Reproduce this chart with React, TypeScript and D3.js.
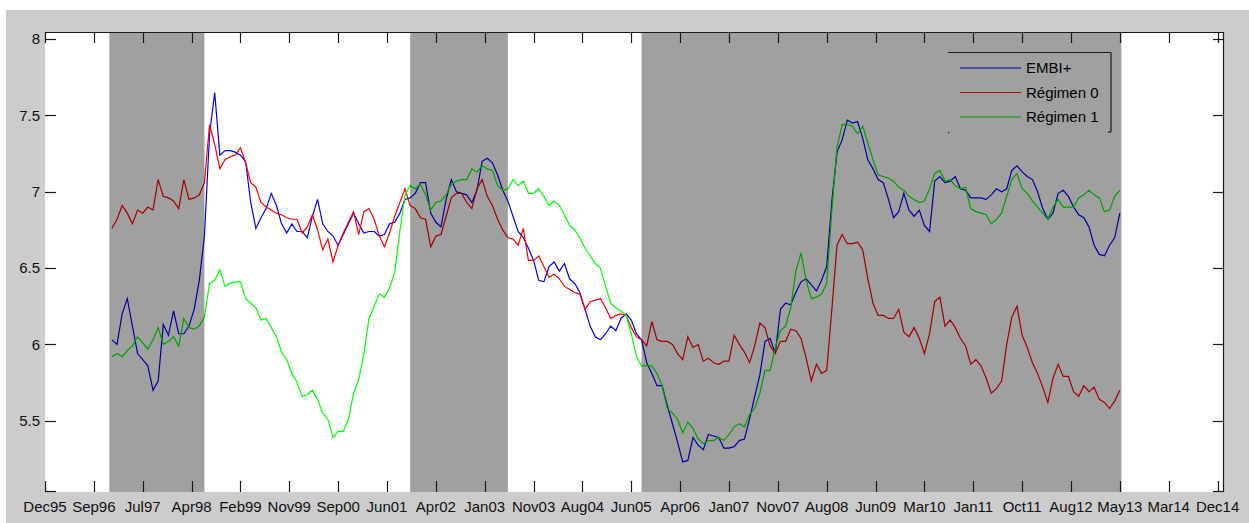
import React from 'react';
import * as d3 from 'd3';

// Monthly observations: index 0 = Jan 1997 ... index 196 = May 2013
const embiPlus = [
  6.03, 6.00, 6.20, 6.30, 6.12, 5.94, 5.90, 5.86, 5.70, 5.76,
  6.13, 6.06, 6.22, 6.07, 6.07, 6.12, 6.23, 6.42, 6.71, 7.38,
  7.65, 7.24, 7.27, 7.27, 7.26, 7.24, 7.20, 6.93, 6.76, 6.83,
  6.89, 6.99, 6.91, 6.79, 6.73, 6.79, 6.74, 6.74, 6.70, 6.84,
  6.95, 6.79, 6.74, 6.71, 6.65, 6.72, 6.79, 6.86, 6.79, 6.73,
  6.74, 6.74, 6.71, 6.72, 6.79, 6.80, 6.86, 6.95, 6.96, 6.99,
  7.06, 7.06, 6.86, 6.80, 6.77, 6.95, 7.08, 7.00, 6.99, 6.98,
  6.93, 7.01, 7.20, 7.22, 7.19, 7.11, 7.01, 6.94, 6.84, 6.74,
  6.70, 6.63, 6.55, 6.42, 6.41, 6.51, 6.54, 6.48, 6.53, 6.43,
  6.40, 6.34, 6.23, 6.12, 6.05, 6.03, 6.07, 6.12, 6.09, 6.17,
  6.20, 6.16, 6.07, 6.03, 5.88, 5.81, 5.73, 5.73, 5.60, 5.48,
  5.36, 5.23, 5.24, 5.39, 5.34, 5.31, 5.41, 5.40, 5.39, 5.32,
  5.32, 5.33, 5.37, 5.38, 5.51, 5.66, 5.80, 6.02, 6.04, 5.94,
  6.23, 6.27, 6.26, 6.34, 6.41, 6.43, 6.39, 6.35, 6.42, 6.51,
  6.94, 7.26, 7.34, 7.47, 7.45, 7.46, 7.35, 7.21, 7.15, 7.08,
  7.06, 6.95, 6.83, 6.87, 6.99, 6.88, 6.84, 6.88, 6.78, 6.74,
  7.07, 7.10, 7.06, 7.07, 7.10, 7.02, 7.01, 6.96, 6.96, 6.96,
  6.95, 6.98, 7.02, 7.00, 7.02, 7.14, 7.17, 7.13, 7.10, 7.08,
  7.00, 6.89, 6.82, 6.86, 6.99, 7.01, 6.97, 6.90, 6.85, 6.83,
  6.77, 6.65, 6.59, 6.58, 6.65, 6.70, 6.86,
];

const regimen0 = [
  6.76, 6.82, 6.91, 6.86, 6.79, 6.88, 6.86, 6.90, 6.88, 7.08,
  6.97, 6.96, 6.94, 6.89, 7.08, 6.95, 6.96, 6.98, 7.06, 7.44,
  7.31, 7.15, 7.21, 7.23, 7.24, 7.29, 7.19, 7.06, 7.03, 6.93,
  6.90, 6.88, 6.86, 6.85, 6.83, 6.82, 6.82, 6.73, 6.77, 6.85,
  6.75, 6.62, 6.69, 6.54, 6.65, 6.73, 6.80, 6.87, 6.72, 6.87,
  6.89, 6.82, 6.71, 6.64, 6.73, 6.84, 6.93, 7.02, 6.91, 6.89,
  6.83, 6.82, 6.64, 6.71, 6.72, 6.84, 6.96, 6.99, 6.99, 6.93,
  6.89, 7.02, 7.08, 6.97, 6.91, 6.82, 6.75, 6.70, 6.69, 6.65,
  6.76, 6.55, 6.55, 6.58, 6.51, 6.44, 6.46, 6.43, 6.38, 6.36,
  6.34, 6.33, 6.23, 6.28, 6.29, 6.30, 6.24, 6.17, 6.19, 6.20,
  6.19, 6.11, 6.05, 6.03, 5.99, 6.15, 6.03, 6.02, 6.02, 6.00,
  5.94, 5.90, 6.05, 5.98, 6.00, 5.89, 5.91, 5.88, 5.87, 5.89,
  5.89, 6.06, 6.00, 5.95, 5.88, 5.99, 6.14, 6.11, 5.99, 5.94,
  6.02, 6.02, 6.10, 6.09, 6.04, 5.91, 5.76, 5.87, 5.81, 5.83,
  6.23, 6.65, 6.72, 6.66, 6.66, 6.67, 6.62, 6.43, 6.27, 6.19,
  6.19, 6.17, 6.17, 6.23, 6.08, 6.05, 6.11, 6.04, 5.94, 6.07,
  6.28, 6.31, 6.12, 6.16, 6.11, 6.04, 5.99, 5.87, 5.90, 5.86,
  5.78, 5.68, 5.71, 5.76, 6.00, 6.18, 6.25, 6.06, 5.98, 5.88,
  5.81, 5.72, 5.62, 5.78, 5.87, 5.79, 5.79, 5.69, 5.66, 5.73,
  5.69, 5.72, 5.64, 5.62, 5.58, 5.63, 5.70,
];

const regimen1 = [
  5.92, 5.94, 5.92, 5.96, 5.99, 6.05, 6.01, 5.97, 6.03, 6.11,
  6.00, 6.02, 6.05, 5.99, 6.17, 6.11, 6.10, 6.12, 6.18, 6.40,
  6.42, 6.49, 6.38, 6.40, 6.41, 6.41, 6.30, 6.27, 6.24, 6.16,
  6.17, 6.11, 6.05, 5.95, 5.90, 5.81, 5.75, 5.66, 5.67, 5.70,
  5.64, 5.55, 5.51, 5.39, 5.43, 5.43, 5.51, 5.68, 5.77, 5.94,
  6.17, 6.25, 6.33, 6.31, 6.37, 6.47, 6.74, 6.98, 7.04, 7.02,
  7.05, 6.98, 6.88, 6.93, 6.94, 6.98, 7.05, 7.07, 7.08, 7.08,
  7.15, 7.13, 7.17, 7.15, 7.14, 7.04, 7.01, 7.02, 7.08, 7.04,
  7.07, 6.99, 6.99, 7.02, 6.97, 6.91, 6.94, 6.91, 6.85, 6.78,
  6.75, 6.70, 6.63, 6.58, 6.53, 6.50, 6.38, 6.27, 6.24, 6.22,
  6.19, 6.07, 5.92, 5.86, 5.86, 5.86, 5.81, 5.73, 5.58, 5.55,
  5.51, 5.42, 5.49, 5.45, 5.38, 5.35, 5.37, 5.37, 5.39, 5.37,
  5.41, 5.46, 5.48, 5.46, 5.54, 5.58, 5.68, 5.83, 5.83, 5.98,
  6.09, 6.12, 6.24, 6.48, 6.60, 6.42, 6.30, 6.31, 6.33, 6.40,
  6.88, 7.29, 7.44, 7.44, 7.43, 7.38, 7.43, 7.32, 7.21, 7.11,
  7.10, 7.09, 7.07, 7.03, 7.01, 6.97, 6.95, 6.93, 6.94, 7.02,
  7.12, 7.14, 7.07, 7.08, 7.04, 7.02, 7.03, 6.89, 6.87, 6.86,
  6.85, 6.79, 6.82, 6.86, 6.97, 7.08, 7.12, 7.02, 6.99, 6.94,
  6.90, 6.86, 6.82, 6.90, 6.95, 6.90, 6.90, 6.90, 6.96, 6.98,
  7.01, 6.98, 6.96, 6.87, 6.88, 6.97, 7.01,
];

const xTickLabels = [
  'Dec95', 'Sep96', 'Jul97', 'Apr98', 'Feb99', 'Nov99', 'Sep00', 'Jun01', 'Apr02',
  'Jan03', 'Nov03', 'Aug04', 'Jun05', 'Apr06', 'Jan07', 'Nov07', 'Aug08', 'Jun09',
  'Mar10', 'Jan11', 'Oct11', 'Aug12', 'May13', 'Mar14', 'Dec14',
];
const firstTickMonth = -13; // Dec95, in months from Jan97
const lastTickMonth = 215; // Dec14
const xDomain = [-13, 216.25];
const yTicks = [5.5, 6, 6.5, 7, 7.5, 8];
const yDomain = [5.033, 8.047];

// regime-1 periods (shaded), months from Jan97
const regimeStart = [-0.5, 58, 103];
const regimeEnd = [18, 77, 196.3];

const seriesNames = ['EMBI+', 'Régimen 0', 'Régimen 1'];
const seriesColors = ['#0000ff', '#ff0000', '#00ff00'];

const W = 1249;
const H = 523;
const AX = { left: 45, top: 32, right: 1224, bottom: 492 };
const FONT = '"Liberation Sans", Arial, Helvetica, sans-serif';

export default function App() {
  const x = d3.scaleLinear().domain(xDomain).range([AX.left, AX.right]);
  const y = d3.scaleLinear().domain(yDomain).range([AX.bottom, AX.top]);
  const line = d3
    .line<number>()
    .x((_, i) => x(i))
    .y((d) => y(d));
  const series = [embiPlus, regimen0, regimen1];
  const n = xTickLabels.length;
  const tickMonths = xTickLabels.map(
    (_, i) => firstTickMonth + (i * (lastTickMonth - firstTickMonth)) / (n - 1)
  );
  const tl = 11;
  const ink = '#1a1a1a';

  const leg = { x0: 948, y0: 52.5, x1: 1111, y1: 132, lx0: 960, lx1: 1021, tx: 1026, ys: [68, 92.5, 117] };

  return (
    <svg
      width={W}
      height={H}
      style={{ position: 'absolute', left: 0, top: 0, display: 'block', background: '#fff' }}
    >
      <defs>
        <clipPath id="axclip">
          <rect x={AX.left} y={AX.top} width={AX.right - AX.left} height={AX.bottom - AX.top} />
        </clipPath>
      </defs>
      <rect x={6} y={10} width={W - 6} height={H - 10} fill="#cccccc" />
      <rect x={AX.left} y={AX.top} width={AX.right - AX.left} height={AX.bottom - AX.top} fill="#ffffff" />

      <g clipPath="url(#axclip)">
        {series.map((s, k) => (
          <path key={k} d={line(s) || ''} fill="none" stroke={seriesColors[k]} strokeWidth={1.2} />
        ))}
      </g>

      {/* legend (drawn beneath the shading, as in the original) */}
      <g>
        {seriesNames.map((name, k) => (
          <g key={name}>
            <line x1={leg.lx0} x2={leg.lx1} y1={leg.ys[k]} y2={leg.ys[k]} stroke={seriesColors[k]} strokeWidth={1.2} />
            <text x={leg.tx} y={leg.ys[k]} dy="0.35em" fontFamily={FONT} fontSize={15} fill="#000">
              {name}
            </text>
          </g>
        ))}
      </g>

      {/* regime shading */}
      {regimeStart.map((s, k) => (
        <rect
          key={k}
          x={x(s)}
          y={AX.top}
          width={x(regimeEnd[k]) - x(s)}
          height={AX.bottom - AX.top}
          fill="#000"
          fillOpacity={0.373}
        />
      ))}

      {/* axes box: top and right lines */}
      <line x1={AX.left} x2={AX.right} y1={AX.top + 0.5} y2={AX.top + 0.5} stroke={ink} strokeWidth={1.2} />
      <line x1={AX.right - 0.5} x2={AX.right - 0.5} y1={AX.top} y2={AX.bottom} stroke={ink} strokeWidth={1.2} />
      <line x1={AX.left} x2={AX.left + tl} y1={AX.bottom - 0.5} y2={AX.bottom - 0.5} stroke={ink} strokeWidth={1.2} />
      <line x1={AX.right - tl} x2={AX.right} y1={AX.bottom - 0.5} y2={AX.bottom - 0.5} stroke={ink} strokeWidth={1.2} />

      {/* x ticks */}
      {tickMonths.map((m, i) => {
        const px = Math.round(x(m)) + 0.5;
        return (
          <g key={i}>
            <line x1={px} x2={px} y1={AX.top} y2={AX.top + tl} stroke={ink} strokeWidth={1.2} />
            <line x1={px} x2={px} y1={AX.bottom - tl} y2={AX.bottom} stroke={ink} strokeWidth={1.2} />
            <text
              x={x(m)}
              y={507}
              dy="0.35em"
              textAnchor="middle"
              fontFamily={FONT}
              fontSize={15}
              fill="#111"
            >
              {xTickLabels[i]}
            </text>
          </g>
        );
      })}

      {/* y ticks */}
      {yTicks.map((v) => {
        const py = Math.round(y(v)) + 0.5;
        return (
          <g key={v}>
            <line x1={AX.left} x2={AX.left + tl} y1={py} y2={py} stroke={ink} strokeWidth={1.2} />
            <line x1={AX.right - tl} x2={AX.right} y1={py} y2={py} stroke={ink} strokeWidth={1.2} />
            <text x={40} y={y(v)} dy="0.35em" textAnchor="end" fontFamily={FONT} fontSize={15} fill="#111">
              {String(v)}
            </text>
          </g>
        );
      })}

      {/* legend box edges */}
      <line x1={leg.x0} x2={leg.x1} y1={leg.y0} y2={leg.y0} stroke={ink} strokeWidth={1.2} />
      <line x1={leg.x1} x2={leg.x1} y1={leg.y0} y2={leg.y1} stroke={ink} strokeWidth={1.2} />
      <line x1={leg.x1 - 3} x2={leg.x1} y1={leg.y1} y2={leg.y1} stroke={ink} strokeWidth={1.2} />
      <rect x={leg.x0} y={leg.y1} width={1.2} height={1.2} fill={ink} />
    </svg>
  );
}
